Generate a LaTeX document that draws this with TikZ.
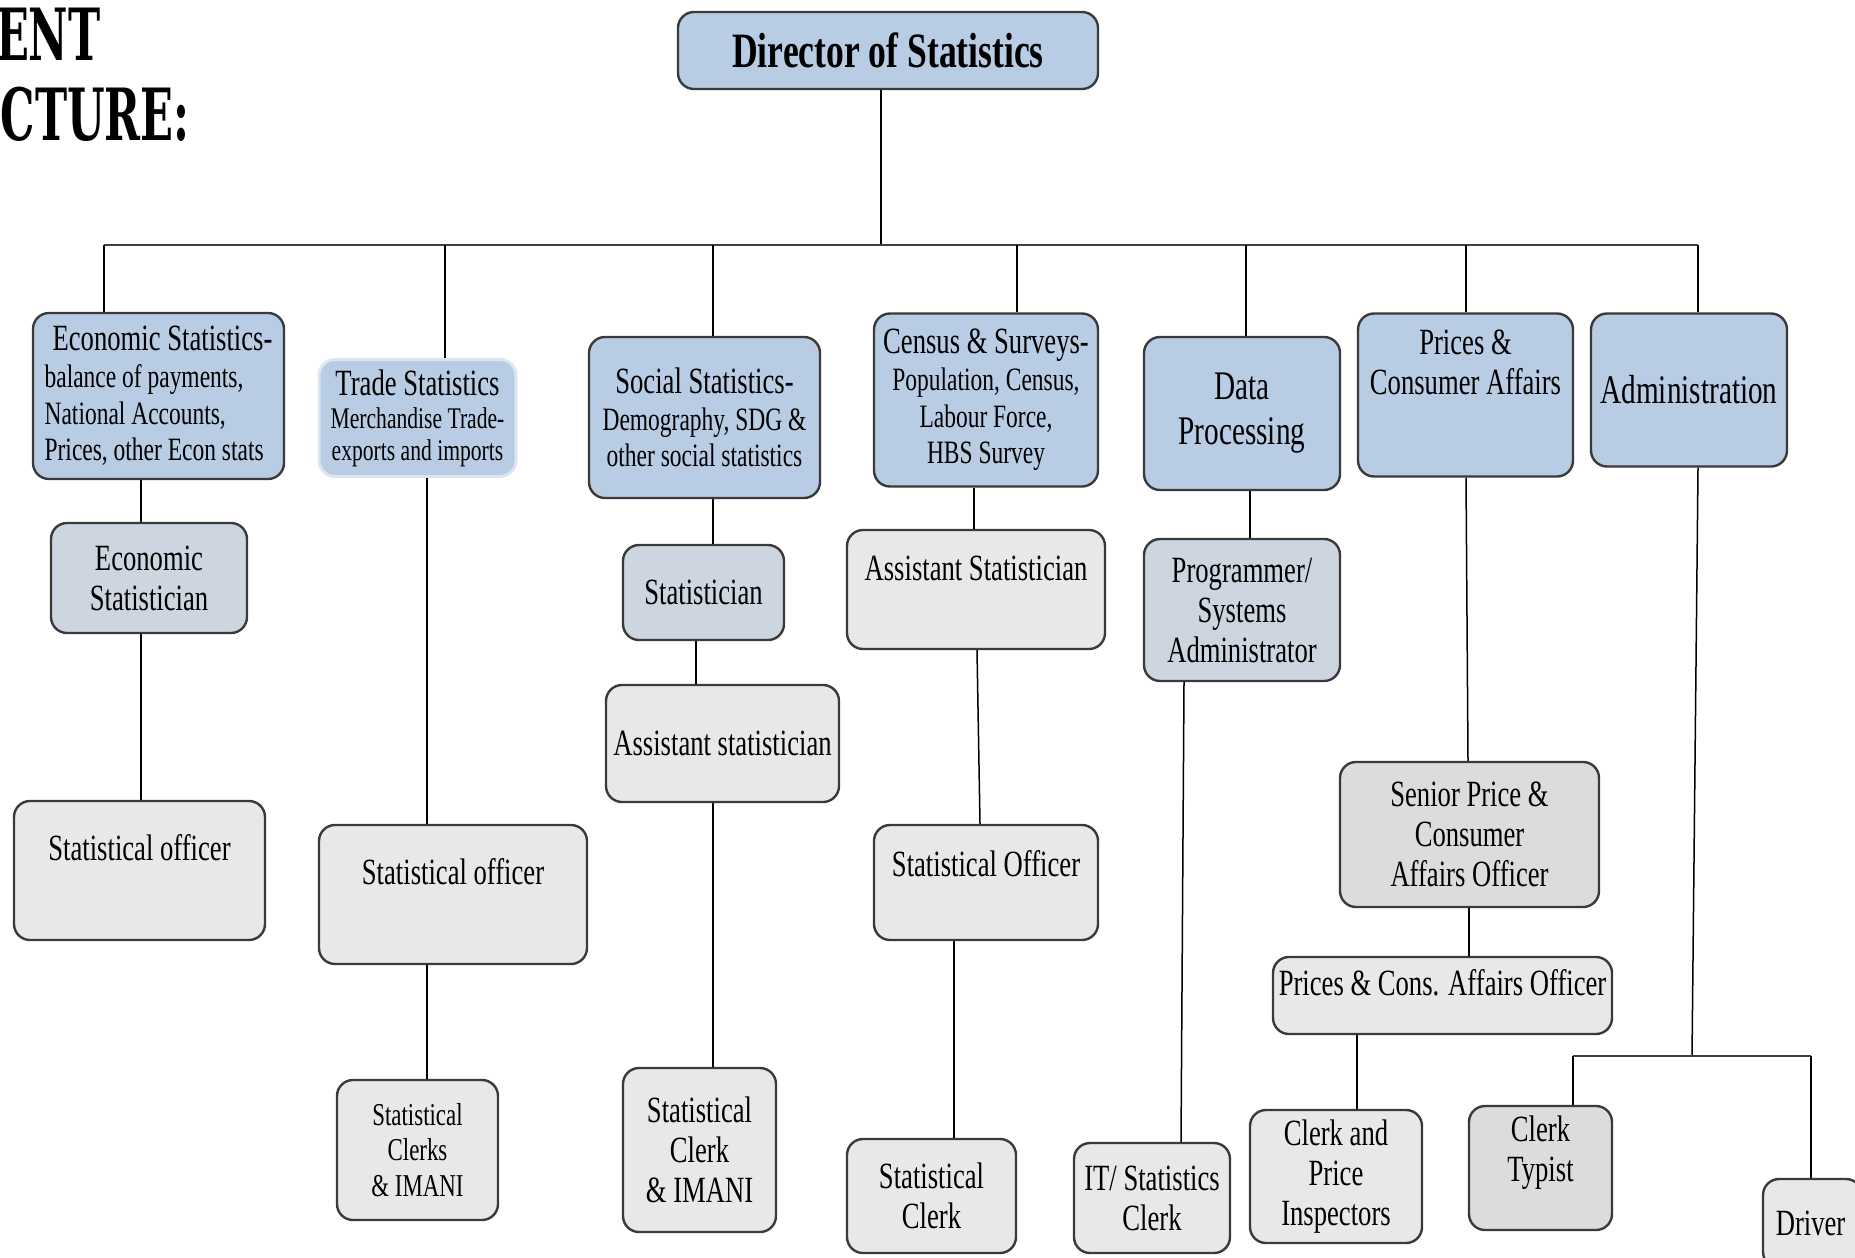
\documentclass[tikz,border=0pt]{standalone}
\usepackage{fontspec}
\setmainfont{Liberation Serif}[FakeStretch=0.72]
\newfontfamily\ttlfont{DejaVu Serif}[FakeStretch=0.6]
\definecolor{deptblue}{HTML}{B8CCE4}
\definecolor{greyblue}{HTML}{CDD5E0}
\definecolor{lgrey}{HTML}{E8E8E8}
\definecolor{mgrey}{HTML}{DCDCDC}
\definecolor{edgec}{HTML}{3A3A3A}
\definecolor{tradeedge}{HTML}{DCE6F2}
\newcommand\fntM{\fontsize{18.5}{20}\selectfont}
\newcommand\fntS{\fontsize{16.3}{18.3}\selectfont}
\newcommand\fntL{\fontsize{20.3}{22.5}\selectfont}
\newcommand\fntD{\fontsize{24.7}{26}\selectfont\bfseries}
\newcommand\fntT{\fontsize{15}{15.8}\selectfont}
\newcommand\fntC{\fontsize{15.9}{17.8}\selectfont}
\begin{document}
\begin{tikzpicture}[x=0.5pt,y=-0.5pt,
  box/.style={draw=edgec, line width=1.2pt, rounded corners=8pt, inner sep=0pt, align=center, text=black},
  dept/.style={box, fill=deptblue},
  gb/.style={box, fill=greyblue},
  lg/.style={box, fill=lgrey},
  mg/.style={box, fill=mgrey},
  sz/.style 2 args={minimum width=#1, minimum height=#2},
  lbl/.style={align=center, inner sep=0pt, text=black},
  wire/.style={line width=0.75pt, draw=black},
  busline/.style={line width=1.3pt, draw=black!75}]
\useasboundingbox (0,0) rectangle (1855,1257);
\clip (0,0) rectangle (1855,1257);

% title fragment
\node[anchor=base east, inner sep=0pt, font=\ttlfont\bfseries\fontsize{36}{36}\selectfont] (ttlA) at (101,61) {ENT};
\node[anchor=base east, inner sep=0pt, font=\ttlfont\bfseries\fontsize{36}{36}\selectfont] (ttlB) at (190,141) {CTURE:};

% director
\node[dept, sz={210pt}{38.5pt}, font=\fntD] (dir) at (888,50.5) {Director of Statistics};

% bus
\coordinate (bT) at (881,245);
\coordinate (bL) at (104,245);
\coordinate (bR) at (1698,245);
\coordinate (d1) at (104,245);
\coordinate (d2) at (445,245);
\coordinate (d3) at (713,245);
\coordinate (d4) at (1017,245);
\coordinate (d5) at (1246,245);
\coordinate (d6) at (1466,245);
\coordinate (d7) at (1698,245);

% departments
\node[dept, sz={125.5pt}{83pt}, font=\fntS, align=left] (econ) at (158.5,396)
  {{\fntM\hspace*{4pt}Economic Statistics-}\\balance of payments,\\National Accounts,\\Prices, other Econ stats};
\node[box, draw=tradeedge, line width=1.5pt, fill=deptblue, sz={98.5pt}{58.5pt}, font=\fntT] (trade) at (417.5,418)
  {{\fntM Trade Statistics}\\[1pt]Merchandise Trade-\\exports and imports};
\node[dept, sz={115.5pt}{80.5pt}, font=\fntS] (social) at (704.5,417.5)
  {{\fntM Social Statistics-}\\Demography, SDG \&\\other social statistics};
\node[dept, sz={112pt}{86.5pt}, font=\fntS] (census) at (986,400)
  {{\fntM Census \& Surveys-}\\Population, Census,\\Labour Force,\\HBS Survey};
\node[dept, sz={98pt}{76.5pt}, font=\fntL] (data) at (1242,413.5) {Data\\Processing};
\node[dept, sz={107.5pt}{81.5pt},
  label={[name=pricesT, lbl, font=\fntM, yshift=16.25pt]center:Prices \&\\Consumer Affairs}] (prices) at (1465.5,395) {};
\node[dept, sz={98pt}{76.5pt}, font=\fntL] (admin) at (1689,390) {Administration};

% economic column
\node[gb, sz={98pt}{55pt}, font=\fntM] (econstat) at (149,578) {Economic\\Statistician};
\node[lg, sz={125.5pt}{69.5pt},
  label={[name=so1T, lbl, font=\fntM, yshift=11.25pt]center:Statistical officer}] (so1) at (139.5,870.5) {};

% trade column
\node[lg, sz={134pt}{69.5pt},
  label={[name=so2T, lbl, font=\fntM, yshift=11.25pt]center:Statistical officer}] (so2) at (453,894.5) {};
\node[lg, sz={80.5pt}{70pt}, font=\fntC] (scl) at (417.5,1150) {Statistical\\Clerks\\\& IMANI};

% social column
\node[gb, sz={80.5pt}{47.5pt}, font=\fntM] (statn) at (703.5,592.5) {Statistician};
\node[lg, sz={116.5pt}{58.5pt}, font=\fntM] (as1) at (722.5,743.5) {Assistant statistician};
\node[lg, sz={76.5pt}{82pt}, font=\fntM] (sci) at (699.5,1150) {Statistical\\Clerk\\\& IMANI};

% census column
\node[lg, sz={129pt}{59.5pt},
  label={[name=as2T, lbl, font=\fntM, yshift=10.75pt]center:Assistant Statistician}] (as2) at (976,589.5) {};
\node[lg, sz={112pt}{57.5pt},
  label={[name=so3T, lbl, font=\fntM, yshift=9.25pt]center:Statistical Officer}] (so3) at (986,882.5) {};
\node[lg, sz={84.5pt}{57pt}, font=\fntM] (sc) at (931.5,1196) {Statistical\\Clerk};

% data processing column
\node[gb, sz={98pt}{71pt}, font=\fntM] (prog) at (1242,610) {Programmer/\\Systems\\Administrator};
\node[lg, sz={78pt}{55pt}, font=\fntM] (itc) at (1152,1198) {IT/ Statistics\\Clerk};

% prices column
\node[mg, sz={129.5pt}{72.5pt}, font=\fntM] (senior) at (1469.5,834.5) {Senior Price \&\\Consumer\\Affairs Officer};
\node[lg, sz={169.5pt}{38.5pt},
  label={[name=pcaoT, lbl, font=\fntM, yshift=6.25pt]center:Prices \& Cons. Affairs Officer}] (pcao) at (1442.5,995.5) {};
\node[lg, sz={86pt}{66.5pt}, font=\fntM] (cpi) at (1336,1176.5) {Clerk and\\Price\\Inspectors};

% administration column
\node[mg, sz={71.5pt}{62pt},
  label={[name=ctT, lbl, font=\fntM, yshift=7.5pt]center:Clerk\\Typist}] (ct) at (1540.5,1168) {};
\node[lg, sz={49.5pt}{44.5pt}, font=\fntM] (drv) at (1812.5,1223.5) {\hspace*{-2pt}Driver};
\coordinate (aL) at (1573,1056);
\coordinate (aR) at (1811,1056);

% connectors
\draw[wire] (dir.south -| bT) -- (bT);
\draw[busline] (bL) -- (bR);
\draw[wire] (d1) -- (d1 |- econ.north);
\draw[wire] (d2) -- (d2 |- trade.north);
\draw[wire] (d3) -- (d3 |- social.north);
\draw[wire] (d4) -- (d4 |- census.north);
\draw[wire] (d5) -- (d5 |- data.north);
\draw[wire] (d6) -- (d6 |- prices.north);
\draw[wire] (d7) -- (d7 |- admin.north);

\draw[wire] (econ.south -| 141,0) -- (econstat.north -| 141,0);
\draw[wire] (econstat.south -| 141,0) -- (so1.north -| 141,0);
\draw[wire] (trade.south -| 427,0) -- (so2.north -| 427,0);
\draw[wire] (so2.south -| 427,0) -- (scl.north -| 427,0);
\draw[wire] (social.south -| 713,0) -- (statn.north -| 713,0);
\draw[wire] (statn.south -| 696,0) -- (as1.north -| 696,0);
\draw[wire] (as1.south -| 713,0) -- (sci.north -| 713,0);
\draw[wire] (census.south -| 974,0) -- (as2.north -| 974,0);
\draw[wire] (as2.south -| 977,0) -- (so3.north -| 980,0);
\draw[wire] (so3.south -| 954,0) -- (sc.north -| 954,0);
\draw[wire] (data.south -| 1250,0) -- (prog.north -| 1250,0);
\draw[wire] (prog.south -| 1184,0) -- (itc.north -| 1181,0);
\draw[wire] (prices.south -| 1466,0) -- (senior.north -| 1468,0);
\draw[wire] (senior.south -| 1469,0) -- (pcao.north -| 1469,0);
\draw[wire] (pcao.south -| 1357,0) -- (cpi.north -| 1357,0);
\draw[wire] (admin.south -| 1698,0) -- (1692,1056);
\draw[busline, line width=1pt] (aL) -- (aR);
\draw[wire, line width=1pt] (aL) -- (aL |- ct.north);
\draw[wire, line width=1pt] (aR) -- (aR |- drv.north);
\end{tikzpicture}
\end{document}
